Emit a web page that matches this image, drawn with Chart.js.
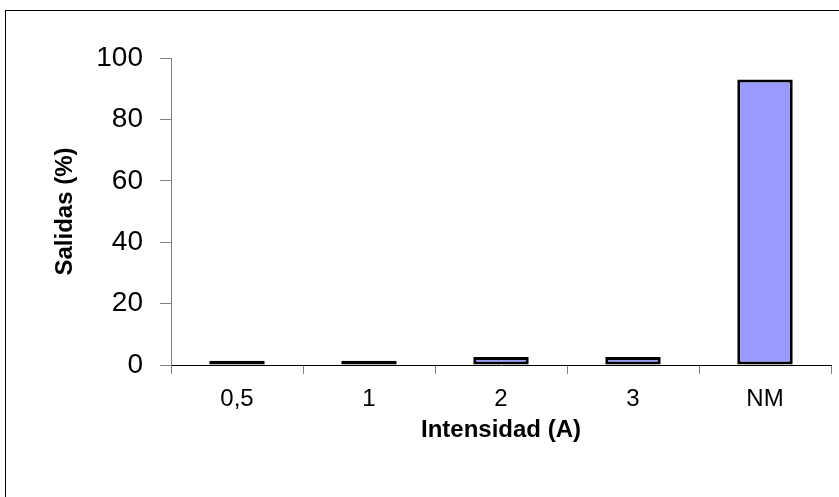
<!DOCTYPE html>
<html>
<head>
<meta charset="utf-8">
<script src="https://cdn.jsdelivr.net/npm/chart.js@4/dist/chart.umd.min.js"></script>
<style>
  html, body { margin: 0; padding: 0; background: #fff; }
  #wrap { width: 839px; height: 497px; position: relative; }
</style>
</head>
<body>
<div id="wrap"><canvas id="c" width="839" height="497"></canvas></div>
<script>
// data
const categories = ['0,5', '1', '2', '3', 'NM'];
const salidas = [1.4, 1.4, 2.6, 2.6, 93];
const yTicks = [0, 20, 40, 60, 80, 100];

const fontFamily = "'Liberation Sans', Arial, sans-serif";

// outer frame, it runs off the right and bottom edges
const framePlugin = {
    id: 'frame',
    beforeDraw(chart) {
        const ctx = chart.ctx;
        ctx.save();
        ctx.fillStyle = '#fff';
        ctx.fillRect(0, 0, chart.width, chart.height);
        ctx.strokeStyle = '#000';
        ctx.lineWidth = 1;
        ctx.strokeRect(5.5, 10.5, chart.width + 20, chart.height + 20);
        ctx.restore();
    }
};

new Chart(document.getElementById('c'), {
    type: 'bar',
    data: {
        labels: categories,
        datasets: [{
            label: 'Salidas (%)',
            data: salidas,
            backgroundColor: '#9999FF',
            borderColor: '#000',
            borderWidth: 3,
            borderSkipped: false,
            barPercentage: 0.42,
            categoryPercentage: 1
        }]
    },
    options: {
        responsive: false,
        animation: false,
        events: [],
        layout: {
            padding: { left: 50.6, right: 8, top: 58, bottom: 52 }
        },
        plugins: {
            legend: { display: false },
            tooltip: { enabled: false }
        },
        scales: {
            x: {
                offset: true,
                grid: {
                    offset: true,
                    drawOnChartArea: false,
                    drawTicks: true,
                    tickLength: 9,
                    color: '#808080'
                },
                border: { display: true, color: '#000', width: 1 },
                ticks: {
                    color: '#000',
                    padding: 13.5,
                    maxRotation: 0,
                    font: { family: fontFamily, size: 24, lineHeight: 1 }
                },
                title: {
                    display: true,
                    text: 'Intensidad (A)',
                    color: '#000',
                    padding: 0,
                    font: { family: fontFamily, size: 24, weight: 'bold', lineHeight: 1.2 }
                },
                afterFit(scale) { scale.height = 80; }
            },
            y: {
                min: 0,
                max: 100,
                grid: {
                    drawOnChartArea: false,
                    drawTicks: true,
                    tickLength: 11,
                    color: '#808080'
                },
                border: { display: true, color: '#808080', width: 1 },
                afterBuildTicks(scale) {
                    scale.ticks = yTicks.map(v => ({ value: v }));
                },
                ticks: {
                    color: '#000',
                    padding: 17,
                    font: { family: fontFamily, size: 28 }
                },
                title: {
                    display: true,
                    text: 'Salidas (%)',
                    color: '#000',
                    padding: 0,
                    font: { family: fontFamily, size: 24, weight: 'bold', lineHeight: 1.2 }
                },
                afterFit(scale) { scale.width = 120.4; }
            }
        }
    },
    plugins: [framePlugin]
});
</script>
</body>
</html>
